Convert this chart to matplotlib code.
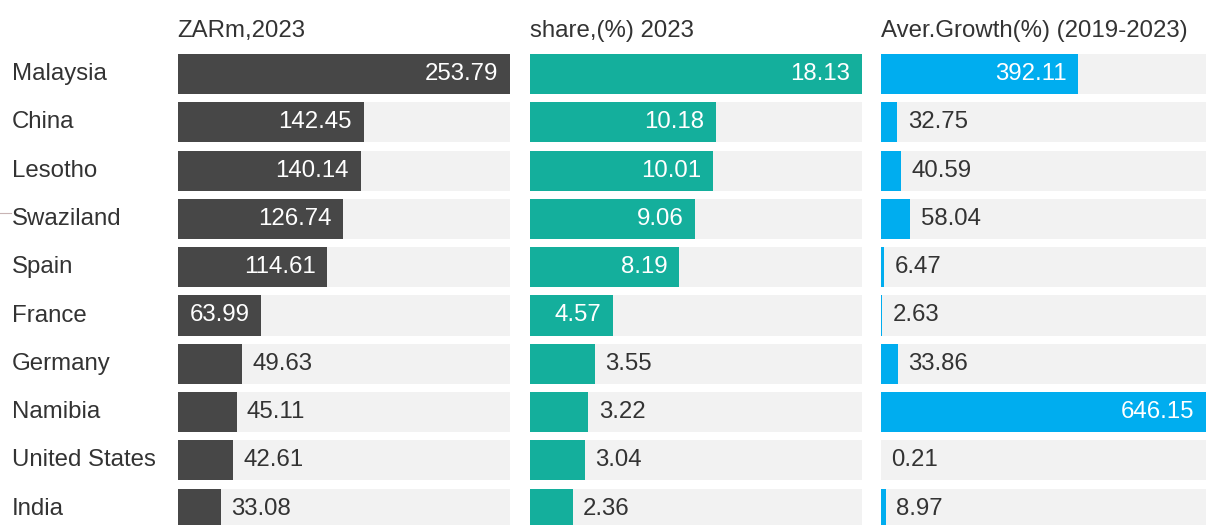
import matplotlib
matplotlib.use("Agg")
import matplotlib.pyplot as plt
from matplotlib.lines import Line2D

plt.rcParams['font.family'] = ['Liberation Sans', 'DejaVu Sans']

countries = ["Malaysia", "China", "Lesotho", "Swaziland", "Spain", "France",
             "Germany", "Namibia", "United States", "India"]
zar_2023 = [253.79, 142.45, 140.14, 126.74, 114.61, 63.99, 49.63, 45.11, 42.61, 33.08]
share_2023 = [18.13, 10.18, 10.01, 9.06, 8.19, 4.57, 3.55, 3.22, 3.04, 2.36]
growth = [392.11, 32.75, 40.59, 58.04, 6.47, 2.63, 33.86, 646.15, 0.21, 8.97]
headers = ["ZARm,2023", "share,(%) 2023", "Aver.Growth(%) (2019-2023)"]
colors = ["#474747", "#14af9c", "#00adef"]

W, H = 1209, 525
fig = plt.figure(figsize=(W / 100, H / 100), dpi=100)

# panel pixel extents
panels_px = [(177.5, 509.5), (529.5, 861.5), (881, 1206)]
row0_center = 74.0
pitch = 48.3
n = len(countries)
top_px = row0_center - pitch / 2
bot_px = row0_center + pitch * (n - 0.5)

series = [zar_2023, share_2023, growth]
fs = 17.3
txt_dark = "#333333"

for (x0, x1), vals, col, hdr in zip(panels_px, series, colors, headers):
    ax = fig.add_axes([x0 / W, 1 - bot_px / H, (x1 - x0) / W, (bot_px - top_px) / H])
    vmax = max(vals)
    ax.set_xlim(0, vmax)
    ax.set_ylim(n - 0.5, -0.5)
    ypos = list(range(n))
    ax.barh(ypos, [vmax] * n, height=0.83, color="#f2f2f2", left=0)
    ax.barh(ypos, vals, height=0.83, color=col)
    for y, v in zip(ypos, vals):
        frac = v / vmax
        label = f"{v:.2f}"
        if frac > 0.22:
            ax.annotate(label, (v, y), xytext=(-8.5, 0), textcoords="offset points",
                        ha="right", va="center", color="white", fontsize=fs)
        else:
            ax.annotate(label, (v, y), xytext=(7.5, 0), textcoords="offset points",
                        ha="left", va="center", color=txt_dark, fontsize=fs)
    ax.axis("off")
    fig.text(x0 / W, 1 - 31 / H, hdr, ha="left", va="center", fontsize=fs,
             color=txt_dark)

for i, c in enumerate(countries):
    yc = row0_center + pitch * i
    fig.text(12 / W, 1 - yc / H, c, ha="left", va="center", fontsize=fs,
             color=txt_dark)

# small stray tick line at left
fig.add_artist(Line2D([0, 11 / W], [1 - 213 / H, 1 - 213 / H],
                      color="#c8b4b4", lw=0.8, transform=fig.transFigure))

fig.savefig("out.png", dpi=100)
